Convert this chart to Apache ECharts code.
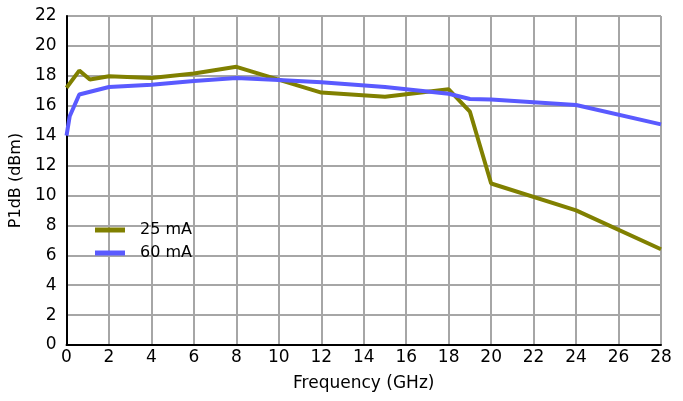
<!DOCTYPE html>
<html>
<head>
<meta charset="utf-8">
<script src="https://cdn.jsdelivr.net/npm/echarts@6/dist/echarts.min.js"></script>
<style>
  html, body { margin: 0; padding: 0; background: #fff; }
  #chart { width: 683px; height: 401px; }
</style>
</head>
<body>
<div id="chart"></div>
<script>
// P1dB versus frequency for two bias currents
const seriesNames = ['25 mA', '60 mA'];
const freq25 = [0, 0.6, 1.1, 2, 4, 6, 8, 12, 15, 18, 19, 20, 24, 28];
const p1db25 = [17.2, 18.35, 17.75, 17.97, 17.85, 18.15, 18.6, 16.88, 16.6, 17.1, 15.6, 10.8, 9.0, 6.4];
const freq60 = [0, 0.15, 0.6, 2, 4, 6, 8, 10, 12, 15, 18, 19, 20, 24, 28];
const p1db60 = [14.0, 15.3, 16.75, 17.25, 17.4, 17.65, 17.85, 17.72, 17.57, 17.25, 16.8, 16.45, 16.42, 16.05, 14.75];
const xTicks = { min: 0, max: 28, step: 2 };
const yTicks = { min: 0, max: 22, step: 2 };

const colors = ['#808000', '#5a5aff'];
const font = 'DejaVu Sans, Verdana, sans-serif';

function pairs(xs, ys) { return xs.map((x, i) => [x, ys[i]]); }

const chart = echarts.init(document.getElementById('chart'));
chart.setOption({
  animation: false,
  grid: { left: 65, right: 22, top: 16, bottom: 56, show: true, borderColor: '#000', borderWidth: 1 },
  legend: {
    orient: 'vertical', left: 90, top: 217, itemWidth: 30, itemHeight: 5, itemGap: 7,
    icon: 'rect',
    textStyle: { fontFamily: font, fontSize: 16, color: '#000', padding: [0, 0, 0, 10] },
    data: seriesNames
  },
  xAxis: {
    type: 'value', min: xTicks.min, max: xTicks.max, interval: xTicks.step,
    name: 'Frequency (GHz)', nameLocation: 'middle', nameGap: 30,
    nameTextStyle: { fontFamily: font, fontSize: 17, color: '#000' },
    axisLine: { lineStyle: { color: '#000', width: 2 } },
    axisTick: { show: false },
    axisLabel: { fontFamily: font, fontSize: 17, color: '#000', margin: 4 },
    splitLine: { show: true, lineStyle: { color: '#a6a6a6', width: 2 } }
  },
  yAxis: {
    type: 'value', min: yTicks.min, max: yTicks.max, interval: yTicks.step,
    name: 'P1dB (dBm)', nameLocation: 'middle', nameGap: 34,
    nameTextStyle: { fontFamily: font, fontSize: 16, color: '#000' },
    axisLine: { show: true, lineStyle: { color: '#000', width: 2 } },
    axisTick: { show: false },
    axisLabel: { fontFamily: font, fontSize: 17, color: '#000', margin: 10 },
    splitLine: { show: true, lineStyle: { color: '#a6a6a6', width: 2 } }
  },
  series: [
    { name: seriesNames[0], type: 'line', data: pairs(freq25, p1db25), showSymbol: false,
      color: colors[0], lineStyle: { width: 4, color: colors[0] } },
    { name: seriesNames[1], type: 'line', data: pairs(freq60, p1db60), showSymbol: false,
      color: colors[1], lineStyle: { width: 4, color: colors[1] } }
  ]
});
</script>
</body>
</html>
